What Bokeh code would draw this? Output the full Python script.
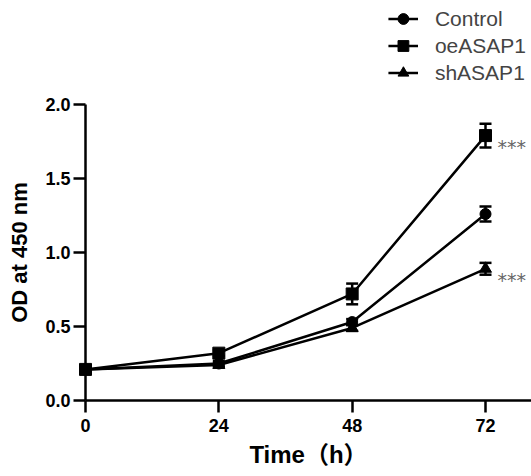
from bokeh.plotting import figure
from bokeh.models import (Range1d, Legend, LegendItem, FixedTicker, Whisker, ColumnDataSource,
                          LinearAxis, TeeHead, CustomJSTickFormatter)
from bokeh.core.properties import value
from bokeh.embed import file_html
from bokeh.resources import INLINE

time_h = [0, 24, 48, 72]
control = [0.21, 0.25, 0.53, 1.26]
control_err = [0.01, 0.015, 0.02, 0.05]
oe = [0.21, 0.32, 0.72, 1.79]
oe_err = [0.01, 0.02, 0.07, 0.08]
sh = [0.21, 0.24, 0.49, 0.89]
sh_err = [0.01, 0.015, 0.02, 0.04]
series_names = ["Control", "oeASAP1", "shASAP1"]
x_ticks = [0, 24, 48, 72]
y_ticks = [0.0, 0.5, 1.0, 1.5, 2.0]
sig_label = "***"

FONT = "Liberation Sans, Arial, Noto Sans CJK SC"

p = figure(width=531, height=476, output_backend="svg", toolbar_location=None,
           x_range=Range1d(-15.3, 80.28), y_range=Range1d(-0.5135, 2.7027),
           x_axis_location=None, y_axis_location=None,
           min_border_left=0, min_border_right=0, min_border_top=0, min_border_bottom=0)
p.outline_line_color = None
p.grid.visible = False
p.background_fill_color = "white"
p.border_fill_color = "white"

xaxis = LinearAxis(fixed_location=0, ticker=FixedTicker(ticks=x_ticks), bounds=(0, 80.28),
                   axis_label="Time（h）")
yaxis = LinearAxis(fixed_location=0, ticker=FixedTicker(ticks=y_ticks), bounds=(0, 2.0),
                   axis_label="OD at 450 nm",
                   formatter=CustomJSTickFormatter(code="return tick.toFixed(1);"))
for ax in (xaxis, yaxis):
    ax.axis_line_width = 2.5
    ax.axis_line_color = "black"
    ax.major_tick_line_width = 2.5
    ax.major_tick_in = 0
    ax.major_tick_out = 12
    ax.minor_tick_line_color = None
    ax.major_label_text_font = FONT
    ax.major_label_text_font_style = "bold"
    ax.major_label_text_font_size = "18px"
    ax.major_label_text_color = "black"
    ax.axis_label_text_font = FONT
    ax.axis_label_text_font_style = "bold"
    ax.axis_label_text_color = "black"
xaxis.axis_label_text_font_size = "24px"
yaxis.axis_label_text_font_size = "22px"
xaxis.major_label_standoff = 6
yaxis.major_label_standoff = 3
xaxis.axis_label_standoff = 6
yaxis.axis_label_standoff = 10
p.add_layout(xaxis, "below")
p.add_layout(yaxis, "left")

items = []
markers = ["circle", "square", "triangle"]
sizes = [11, 12, 12]
for name, ys, errs, mk, sz in zip(series_names, [control, oe, sh], [control_err, oe_err, sh_err], markers, sizes):
    src = ColumnDataSource(dict(x=time_h, y=ys,
                                lo=[a - b for a, b in zip(ys, errs)],
                                hi=[a + b for a, b in zip(ys, errs)]))
    w = Whisker(source=src, base="x", lower="lo", upper="hi", line_color="black", line_width=2.5,
                upper_head=TeeHead(size=12, line_color="black", line_width=2.5),
                lower_head=TeeHead(size=12, line_color="black", line_width=2.5))
    p.add_layout(w)
    l = p.line("x", "y", source=src, line_color="black", line_width=2.5)
    s = p.scatter("x", "y", source=src, marker=mk, size=sz, fill_color="black", line_color="black")
    items.append(LegendItem(label=name, renderers=[l, s]))

star_src = ColumnDataSource(dict(x=[72, 72], y=[oe[3], sh[3]], t=[sig_label, sig_label]))
p.text("x", "y", text="t", source=star_src, x_offset=12, y_offset=11, text_color="#666666",
       text_font=value("DejaVu Sans"), text_font_size="19px", text_baseline="alphabetic",
       text_align="left")

legend = Legend(items=items, location="top_right", border_line_color=None,
                background_fill_alpha=0, label_text_font=FONT, label_text_font_size="21px",
                glyph_width=30, glyph_height=27, spacing=0, label_standoff=17,
                margin=5, padding=2, label_height=27)
p.add_layout(legend)

open("out.html", "w").write(file_html(p, INLINE))
